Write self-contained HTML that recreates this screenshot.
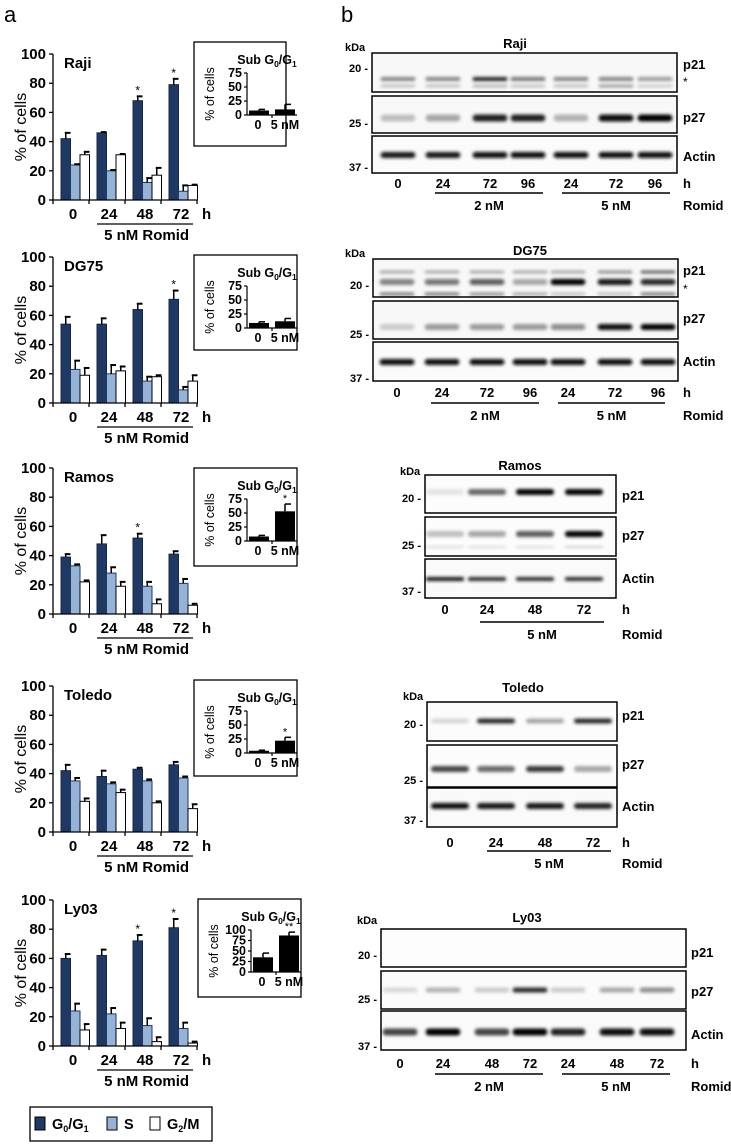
<!DOCTYPE html>
<html><head><meta charset="utf-8">
<style>
html,body{margin:0;padding:0;background:#fff;}
svg{display:block;font-family:"Liberation Sans",Arial,sans-serif;font-weight:bold;}
</style></head>
<body>
<svg id="fig" width="731" height="1145" viewBox="0 0 731 1145" xmlns="http://www.w3.org/2000/svg">
<defs>
<filter id="blur" x="-50%" y="-100%" width="200%" height="300%"><feGaussianBlur stdDeviation="1.6"/></filter>
</defs>
<text x="4" y="22" font-size="22" font-weight="normal">a</text>
<text x="341" y="22" font-size="22" font-weight="normal">b</text>
</svg>
<script>
const categories = ['0','24','48','72'];
const yTicks = [0,20,40,60,80,100];
const rajiG0 = [42,46,68,79], rajiG0Err = [4,0.5,3,4];
const rajiS = [24,20,12,6], rajiSErr = [0.5,0.5,3,4];
const rajiG2 = [31,31,17,10], rajiG2Err = [2,0.5,5,0.5];
const rajiStars = ['','','*','*'];
const dg75G0 = [54,54,64,71], dg75G0Err = [5,4,4,6];
const dg75S = [23,20,15,9], dg75SErr = [6,6,3,2];
const dg75G2 = [19,22,18,15], dg75G2Err = [5,3,1,4];
const dg75Stars = ['','','','*'];
const ramosG0 = [39,48,52,41], ramosG0Err = [2,6,3,2];
const ramosS = [33,28,19,21], ramosSErr = [1,4,3,3];
const ramosG2 = [22,19,7,6], ramosG2Err = [1,3,3,1];
const ramosStars = ['','','*',''];
const toledoG0 = [42,38,43,46], toledoG0Err = [4,4,1,2];
const toledoS = [35,33,35,37], toledoSErr = [2,1,1,1];
const toledoG2 = [21,27,20,16], toledoG2Err = [2,2,1,3];
const toledoStars = ['','','',''];
const ly03G0 = [60,62,72,81], ly03G0Err = [3,4,4,6];
const ly03S = [24,22,14,12], ly03SErr = [5,4,5,4];
const ly03G2 = [11,12,3,2], ly03G2Err = [4,4,3,1];
const ly03Stars = ['','','*','*'];
const insetCats = ['0','5 nM'];
const rajiSub = [8,10], rajiSubErr = [2,9];
const dg75Sub = [9,12], dg75SubErr = [2,5];
const ramosSub = [8,53], ramosSubErr = [2,13];
const toledoSub = [4,22], toledoSubErr = [1,6];
const ly03Sub = [35,87], ly03SubErr = [10,8];
const insetTicks75 = [0,25,50,75];
const insetTicks100 = [0,25,50,75,100];

const NS='http://www.w3.org/2000/svg';
const svg=document.getElementById('fig');
function mk(tag,attrs,parent,text){const e=document.createElementNS(NS,tag);for(const k in attrs)e.setAttribute(k,attrs[k]);if(text!==undefined)e.textContent=text;(parent||svg).appendChild(e);return e;}

function drawPanel(key,top,title,series,errs,stars){
  const g=mk('g',{});
  
  
  const H=146, x0=53, gw=36, bw=9.5;
  const y=v=>top+H*(1-v/100);
  const bottom=top+H;
  const colors=['#1f3864','#95b3d7','#ffffff'];
  const strokes=['#142844','#1f3864','#000'];
  const names=['g0g1','s','g2m'];
  series.forEach((vals,si)=>{
    vals.forEach((v,ci)=>{
      const bx=x0+ci*gw+8+si*bw;
      const r=mk('rect',{x:bx,y:y(v),width:bw,height:bottom-y(v),fill:colors[si],stroke:strokes[si],'stroke-width':1},g);
      
      
      const e=errs[si][ci], cx=bx+bw/2, ty=y(v+e);
      mk('line',{x1:cx,x2:cx,y1:y(v),y2:ty,stroke:'#000','stroke-width':1.5},g);
      mk('line',{x1:cx-1,x2:bx+bw,y1:ty,y2:ty,stroke:'#000','stroke-width':2},g);
      if(si===0&&stars[ci]){const st=mk('text',{x:cx,y:ty-2,'font-size':12,'text-anchor':'middle','font-weight':'normal'},g,stars[ci]);
        }
    });
  });
  mk('line',{x1:x0,x2:x0,y1:top,y2:bottom,stroke:'#000','stroke-width':1.3},g);
  mk('line',{x1:x0,x2:x0+4*gw,y1:bottom,y2:bottom,stroke:'#000','stroke-width':1.3},g);
  yTicks.forEach(t=>{
    mk('line',{x1:x0-4,x2:x0,y1:y(t),y2:y(t),stroke:'#000','stroke-width':1.3},g);
    const tl=mk('text',{x:x0-7,y:y(t)+5,'font-size':15,'text-anchor':'end'},g,String(t));
    
  });
  for(let i=0;i<=4;i++)mk('line',{x1:x0+i*gw,x2:x0+i*gw,y1:bottom,y2:bottom+4,stroke:'#000','stroke-width':1.3},g);
  categories.forEach((c,i)=>{const t=mk('text',{x:x0+i*gw+20,y:bottom+19,'font-size':15,'text-anchor':'middle'},g,c);
    });
  mk('text',{x:x0+4*gw+5,y:bottom+19,'font-size':15},g,'h');
  mk('line',{x1:x0+gw+8,x2:x0+4*gw-4,y1:bottom+24,y2:bottom+24,stroke:'#000','stroke-width':1.3},g);
  const rl=mk('text',{x:x0+2.6*gw,y:bottom+40,'font-size':15,'text-anchor':'middle'},g,'5 nM Romid');
  
  const yt=mk('text',{x:0,y:0,'font-size':16,'font-weight':'normal','text-anchor':'middle',transform:`translate(26,${top+H/2}) rotate(-90)`},g,'% of cells');
  
  const tt=mk('text',{x:x0+11,y:top+14,'font-size':15},g,title);
  
}

function drawInset(key,bx,by,bw,bh,ticks,vals,errs,stars){
  const g=mk('g',{});
  
  
  mk('rect',{x:bx,y:by,width:bw,height:bh,fill:'#fff',stroke:'#000','stroke-width':1.3},g);
  const ax=bx+53, y0=by+73, ytop=by+31, max=ticks[ticks.length-1];
  const y=v=>y0-(y0-ytop)*v/max;
  const t=mk('text',{x:ax+20,y:by+22,'font-size':12.5,'text-anchor':'middle'},g);
  t.innerHTML='Sub G<tspan font-size="8.5" dy="3">0</tspan><tspan dy="-3">/G</tspan><tspan font-size="8.5" dy="3">1</tspan>';
  
  vals.forEach((v,i)=>{
    const cx=ax+12+i*26;
    const r=mk('rect',{x:cx-10,y:y(v),width:20,height:y0-y(v),fill:'#000'},g);
    
    const ty=y(v+errs[i]);
    mk('line',{x1:cx,x2:cx,y1:y(v),y2:ty,stroke:'#000','stroke-width':1.5},g);
    mk('line',{x1:cx,x2:cx+6,y1:ty,y2:ty,stroke:'#000','stroke-width':1.5},g);
    if(stars[i])mk('text',{x:cx,y:ty-2,'font-size':11,'text-anchor':'middle','font-weight':'normal'},g,stars[i]);
    mk('text',{x:cx-(i?0:1),y:y0+14,'font-size':12.5,'text-anchor':'middle'},g,insetCats[i]);
  });
  mk('line',{x1:ax,x2:ax,y1:ytop,y2:y0,stroke:'#000','stroke-width':1.2},g);
  mk('line',{x1:ax,x2:ax+50,y1:y0,y2:y0,stroke:'#000','stroke-width':1.2},g);
  mk('line',{x1:ax+25,x2:ax+25,y1:y0,y2:y0+3,stroke:'#000','stroke-width':1.2},g);
  ticks.forEach(tk=>{mk('line',{x1:ax-3,x2:ax,y1:y(tk),y2:y(tk),stroke:'#000','stroke-width':1.2},g);
    mk('text',{x:ax-5,y:y(tk)+4,'font-size':12.5,'text-anchor':'end'},g,String(tk));});
  const yt=mk('text',{x:0,y:0,'font-size':12.5,'font-weight':'normal','text-anchor':'middle',transform:`translate(${bx+20},${(ytop+y0)/2}) rotate(-90)`},g,'% of cells');
  
}

drawPanel('raji',54,'Raji',[rajiG0,rajiS,rajiG2],[rajiG0Err,rajiSErr,rajiG2Err],rajiStars);
drawPanel('dg75',257,'DG75',[dg75G0,dg75S,dg75G2],[dg75G0Err,dg75SErr,dg75G2Err],dg75Stars);
drawPanel('ramos',468,'Ramos',[ramosG0,ramosS,ramosG2],[ramosG0Err,ramosSErr,ramosG2Err],ramosStars);
drawPanel('toledo',686,'Toledo',[toledoG0,toledoS,toledoG2],[toledoG0Err,toledoSErr,toledoG2Err],toledoStars);
drawPanel('ly03',900,'Ly03',[ly03G0,ly03S,ly03G2],[ly03G0Err,ly03SErr,ly03G2Err],ly03Stars);
drawInset('raji',194,42,92,104,insetTicks75,rajiSub,rajiSubErr,['','']);
drawInset('dg75',194,255,103,95,insetTicks75,dg75Sub,dg75SubErr,['','']);
drawInset('ramos',194,468,103,98,insetTicks75,ramosSub,ramosSubErr,['','*']);
drawInset('toledo',194,680,103,96,insetTicks75,toledoSub,toledoSubErr,['','*']);
drawInset('ly03',198,899,103,98,insetTicks100,ly03Sub,ly03SubErr,['','**']);

(function(){
  const g=mk('g',{});
  
  
  mk('rect',{x:30,y:1107,width:182,height:34,fill:'#fff',stroke:'#000','stroke-width':1.3},g);
  const items=[['#1f3864',35,'G','0','/G','1','legend-entry-g0g1'],['#95b3d7',107,'S','','','','legend-entry-s'],['#fff',150,'G','2','/M','','legend-entry-g2m']];
  items.forEach(it=>{
    const e=mk('g',{},g);
    
    
    mk('rect',{x:it[1],y:1117,width:10,height:13,fill:it[0],stroke:'#000','stroke-width':1},e);
    const t=mk('text',{x:it[1]+17,y:1129,'font-size':14.5},e);
    t.innerHTML=it[2]+(it[3]?'<tspan font-size="9" dy="3">'+it[3]+'</tspan><tspan dy="-3">'+it[4]+'</tspan>':'')+(it[5]?'<tspan font-size="9" dy="3">'+it[5]+'</tspan>':'');
  });
})();

function drawBlot(key,cfg){
  const g=mk('g',{});
  
  
  const [x1,x2]=cfg.box;
  const lw=(x2-x1)/cfg.lanes.length*0.8;
  const tt=mk('text',{x:cfg.titleX,y:cfg.titleY+4,'font-size':13,'text-anchor':'middle'},g,cfg.title);
  
  mk('text',{x:cfg.kdaX,y:cfg.kdaY+4,'font-size':11},g,'kDa');
  cfg.rows.forEach((row,ri)=>{
    const rg=mk('g',{},g);
    
    
    mk('rect',{x:x1,y:row.y[0],width:x2-x1,height:row.y[1]-row.y[0],fill:row.bg||'#f8f8f8'},rg);
    if(row.bands)row.bands.forEach(bd=>{
      bd.vals.forEach((v,li)=>{
        if(v<=0)return;
        const c=Math.max(0,Math.round(240-245*v));
        mk('rect',{x:cfg.lanes[li]-lw/2,y:bd.y-bd.h/2,width:lw,height:bd.h,rx:bd.h/2,fill:`rgb(${c},${c},${c})`,filter:'url(#blur)'},rg);
      });
    });
    mk('rect',{x:x1,y:row.y[0],width:x2-x1,height:row.y[1]-row.y[0],fill:'none',stroke:'#000','stroke-width':1.5},rg);
    const lb=mk('text',{x:cfg.labelX,y:row.labelY+5,'font-size':13},rg,row.name==='actin'?'Actin':row.name);
    
    mk('text',{x:x1-4,y:row.mw[1]+4,'font-size':11,'text-anchor':'end'},rg,row.mw[0]+' -');
  });
  if(cfg.star)mk('text',{x:cfg.labelX,y:cfg.star+6,'font-size':12,'font-weight':'normal'},g,'*');
  cfg.times.forEach((t,i)=>mk('text',{x:cfg.lanes[i],y:cfg.timeY+5,'font-size':13,'text-anchor':'middle'},g,t));
  mk('text',{x:cfg.labelX,y:cfg.timeY+5,'font-size':13},g,'h');
  cfg.groups.forEach(gr=>{
    mk('line',{x1:gr[0],x2:gr[1],y1:cfg.lineY,y2:cfg.lineY,stroke:'#000','stroke-width':1.5},g);
    mk('text',{x:(gr[0]+gr[1])/2,y:cfg.lineY+17,'font-size':13,'text-anchor':'middle'},g,gr[2]);
  });
  mk('text',{x:cfg.labelX,y:cfg.lineY+17,'font-size':13},g,'Romid');
}

drawBlot('raji',{title:'Raji',titleX:515,titleY:44,kdaX:345,kdaY:47,box:[372,677],labelX:683,star:80,
 lanes:[398,443,490,528,571,616,655],times:['0','24','72','96','24','72','96'],timeY:183,lineY:193,
 groups:[[435,543,'2 nM'],[562,670,'5 nM']],
 rows:[{name:'p21',y:[53,92],labelY:64,mw:['20',68],bands:[{y:79,h:4,vals:[0.45,0.45,0.85,0.5,0.45,0.45,0.35]},{y:86,h:3,vals:[0.2,0.2,0.25,0.2,0.2,0.35,0.15]}]},
       {name:'p27',y:[96,133],labelY:117,mw:['25',123],bands:[{y:118,h:7,vals:[0.2,0.3,0.85,0.85,0.25,0.95,1]}]},
       {name:'actin',y:[136,173],labelY:156,mw:['37',167],bg:'#fbfbfb',bands:[{y:155,h:6,vals:[0.9,0.9,0.95,0.95,0.95,0.95,0.95]}]}]});
drawBlot('dg75',{title:'DG75',titleX:530,titleY:251,kdaX:345,kdaY:253,box:[373,678],labelX:683,star:287,
 lanes:[397,442,487,530,568,615,658],times:['0','24','72','96','24','72','96'],timeY:392,lineY:403,
 groups:[[431,539,'2 nM'],[558,665,'5 nM']],
 rows:[{name:'p21',y:[259,297],labelY:270,mw:['20',285],bands:[{y:282,h:6,vals:[0.45,0.5,0.6,0.3,1,0.9,0.8]},{y:272,h:3,vals:[0.3,0.3,0.3,0.3,0.3,0.4,0.6]},{y:294,h:3,vals:[0.5,0.5,0.4,0.3,0.2,0.2,0.5]}]},
       {name:'p27',y:[301,339],labelY:318,mw:['25',334],bands:[{y:327,h:6,vals:[0.15,0.35,0.35,0.35,0.4,0.95,1]}]},
       {name:'actin',y:[342,381],labelY:361,mw:['37',378],bg:'#fbfbfb',bands:[{y:362,h:6,vals:[0.95,0.95,0.95,0.95,0.95,0.95,0.95]}]}]});
drawBlot('ramos',{title:'Ramos',titleX:520,titleY:466,kdaX:400,kdaY:471,box:[425,616],labelX:622,
 lanes:[445,487,535,584],times:['0','24','48','72'],timeY:609,lineY:622,
 groups:[[480,604,'5 nM']],
 rows:[{name:'p21',y:[475,513],labelY:495,mw:['20',498],bg:'#fcfcfc',bands:[{y:492,h:6,vals:[0.05,0.55,1,1]}]},
       {name:'p27',y:[517,556],labelY:535,mw:['25',545],bg:'#fcfcfc',bands:[{y:534,h:6,vals:[0.2,0.3,0.6,1]},{y:547,h:2,vals:[0.1,0.1,0.1,0.15]}]},
       {name:'actin',y:[559,598],labelY:578,mw:['37',591],bg:'#fafafa',bands:[{y:579,h:4,vals:[0.9,0.8,0.8,0.8]}]}]});
drawBlot('toledo',{title:'Toledo',titleX:523,titleY:688,kdaX:403,kdaY:696,box:[427,617],labelX:622,
 lanes:[450,496,545,593],times:['0','24','48','72'],timeY:842,lineY:851,
 groups:[[487,611,'5 nM']],
 rows:[{name:'p21',y:[702,741],labelY:715,mw:['20',724],bg:'#fcfcfc',bands:[{y:721,h:5,vals:[0.1,0.8,0.3,0.8]}]},
       {name:'p27',y:[745,787],labelY:764,mw:['25',780],bg:'#fcfcfc',bands:[{y:769,h:6,vals:[0.7,0.55,0.75,0.3]}]},
       {name:'actin',y:[788,827],labelY:806,mw:['37',820],bg:'#fafafa',bands:[{y:806,h:6,vals:[0.95,0.9,0.9,0.85]}]}]});
drawBlot('ly03',{title:'Ly03',titleX:527,titleY:918,kdaX:357,kdaY:920,box:[381,686],labelX:691,
 lanes:[400,443,492,530,568,617,657],times:['0','24','48','72','24','48','72'],timeY:1063,lineY:1074,
 groups:[[435,543,'2 nM'],[562,670,'5 nM']],
 rows:[{name:'p21',y:[929,967],labelY:952,mw:['20',955],bg:'#fdfdfd'},
       {name:'p27',y:[971,1009],labelY:991,mw:['25',999],bg:'#fbfbfb',bands:[{y:990,h:5,vals:[0.1,0.25,0.15,0.8,0.15,0.3,0.4]}]},
       {name:'actin',y:[1011,1050],labelY:1034,mw:['37',1046],bg:'#fafafa',bands:[{y:1032,h:7,vals:[0.7,1,0.7,1,0.85,0.95,0.95]}]}]});
</script>
</body></html>
